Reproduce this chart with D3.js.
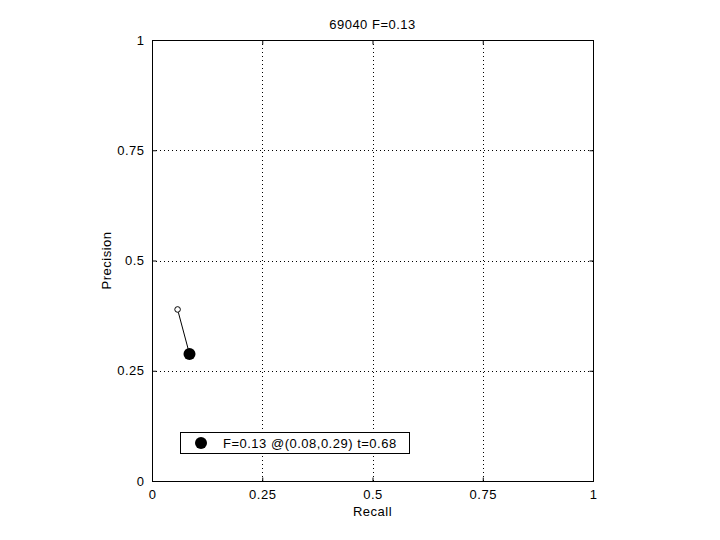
<!DOCTYPE html>
<html><head><meta charset="utf-8">
<script src="https://cdn.jsdelivr.net/npm/d3@7"></script>
<style>body{margin:0;background:#fff}text{font-family:"Liberation Sans",Arial,sans-serif;font-size:13px;letter-spacing:0.5px;fill:#000}</style>
</head><body>
<svg id="c" width="720" height="540"></svg>
<script>
const title = "69040 F=0.13";
const recall = [0.058, 0.085];
const precision = [0.389, 0.288];
const tickVals = [0, 0.25, 0.5, 0.75, 1];
const tickLabels = ["0", "0.25", "0.5", "0.75", "1"];
const legendText = "F=0.13 @(0.08,0.29) t=0.68";

const svg = d3.select("#c");
const L = 152, R = 593, T = 40, B = 481;
const x = d3.scaleLinear().domain([0,1]).range([L,R]);
const y = d3.scaleLinear().domain([0,1]).range([B,T]);

svg.append("rect").attr("width",720).attr("height",540).attr("fill","#fff");
const g = svg.append("g");
tickVals.slice(1,-1).forEach(v=>{
  g.append("line").attr("x1",Math.round(x(v))+0.5).attr("x2",Math.round(x(v))+0.5).attr("y1",T).attr("y2",B)
   .attr("stroke","#000").attr("stroke-width",1).attr("stroke-dasharray","1,3");
  g.append("line").attr("y1",Math.round(y(v))+0.5).attr("y2",Math.round(y(v))+0.5).attr("x1",L).attr("x2",R)
   .attr("stroke","#000").attr("stroke-width",1).attr("stroke-dasharray","1,3");
});
const xa = d3.axisBottom(x).tickValues(tickVals).tickFormat((d,i)=>tickLabels[i]).tickSizeInner(-4).tickSizeOuter(0).tickPadding(8);
const ya = d3.axisLeft(y).tickValues(tickVals).tickFormat((d,i)=>tickLabels[i]).tickSizeInner(-4).tickSizeOuter(0).tickPadding(8);
const gx = svg.append("g").attr("transform",`translate(0,${B+0.5})`).call(xa);
const gy = svg.append("g").attr("transform",`translate(${L+0.5},0)`).call(ya);
[gx,gy].forEach(a=>{a.select(".domain").remove();a.selectAll("text").style("font-size","13px").attr("font-family",null).attr("fill","#000");});
const xt = d3.axisTop(x).tickValues(tickVals).tickFormat("").tickSizeInner(-4).tickSizeOuter(0);
const yr = d3.axisRight(y).tickValues(tickVals).tickFormat("").tickSizeInner(-4).tickSizeOuter(0);
svg.append("g").attr("transform",`translate(0,${T+0.5})`).call(xt).select(".domain").remove();
svg.append("g").attr("transform",`translate(${R+0.5},0)`).call(yr).select(".domain").remove();
svg.append("rect").attr("x",L+0.5).attr("y",T+0.5).attr("width",R-L).attr("height",B-T)
  .attr("fill","none").attr("stroke","#000");

svg.append("path").datum(recall.map((r,i)=>[r,precision[i]]))
  .attr("d",d3.line().x(d=>x(d[0])).y(d=>y(d[1]))).attr("fill","none").attr("stroke","#000");
svg.append("circle").attr("cx",x(recall[0])).attr("cy",y(precision[0])).attr("r",2.8).attr("fill","#fff").attr("stroke","#000");
svg.append("circle").attr("cx",x(recall[1])).attr("cy",y(precision[1])).attr("r",6).attr("fill","#000");

svg.append("text").attr("x",(L+R)/2).attr("y",29).attr("text-anchor","middle").text(title);
svg.append("text").attr("x",(L+R)/2).attr("y",516).attr("text-anchor","middle").text("Recall");
svg.append("text").attr("transform",`translate(111,${(T+B)/2}) rotate(-90)`).attr("text-anchor","middle").text("Precision");

svg.append("rect").attr("x",180.5).attr("y",432.5).attr("width",229).attr("height",21).attr("fill","#fff").attr("stroke","#000");
svg.append("circle").attr("cx",201).attr("cy",443).attr("r",6).attr("fill","#000");
svg.append("text").attr("x",223).attr("y",448).text(legendText);
</script>
</body></html>
